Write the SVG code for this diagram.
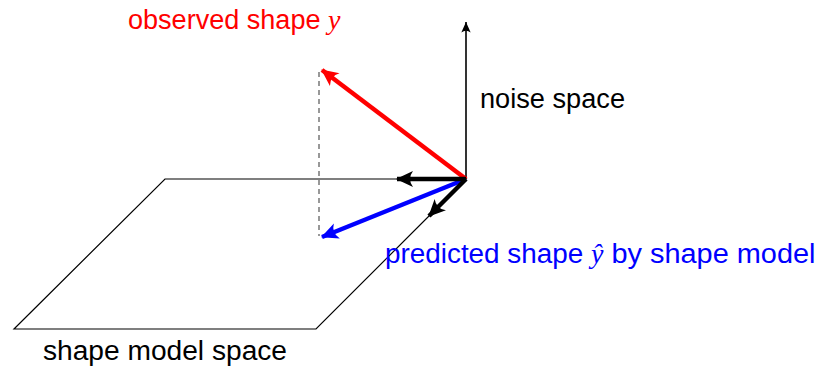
<svg xmlns="http://www.w3.org/2000/svg" width="827" height="372" viewBox="0 0 827 372">
<defs>
<marker id="headK" markerUnits="userSpaceOnUse" markerWidth="22" markerHeight="22" viewBox="-18 -11 22 22" refX="0" refY="0" orient="auto"><path d="M1,0 L-16,-8 Q-10,0 -16,8 Z" fill="#000"/></marker>
<marker id="headR" markerUnits="userSpaceOnUse" markerWidth="22" markerHeight="22" viewBox="-18 -11 22 22" refX="0" refY="0" orient="auto"><path d="M1,0 L-16,-8 Q-10,0 -16,8 Z" fill="#f00"/></marker>
<marker id="headB" markerUnits="userSpaceOnUse" markerWidth="22" markerHeight="22" viewBox="-18 -11 22 22" refX="0" refY="0" orient="auto"><path d="M1,0 L-16,-8 Q-10,0 -16,8 Z" fill="#00f"/></marker>
<marker id="headT" markerUnits="userSpaceOnUse" markerWidth="14" markerHeight="14" viewBox="-10 -6 12 12" refX="0" refY="0" orient="auto"><path d="M0,0 L-9,-4 Q-6,0 -9,4 Z" fill="#000"/></marker>
</defs>
<style>
text{font-family:"Liberation Sans",Arial,sans-serif;font-size:27px}
.m{font-family:"Liberation Serif",serif;font-style:italic;font-size:28px}
.thick{stroke-width:4.5;fill:none;stroke-linecap:butt}
</style>
<g id="plane">
<polygon points="165,179 466,179 316,329 14,329" fill="none" stroke="#000" stroke-width="1.2"/>
<text x="43" y="360" textLength="244" lengthAdjust="spacingAndGlyphs">shape model space</text>
</g>
<g id="connectors">
<line x1="319" y1="72" x2="319" y2="236" stroke="#777" stroke-width="1.5" stroke-dasharray="5,4"/>
<line x1="466" y1="179" x2="466" y2="22" stroke="#000" stroke-width="1.6" marker-end="url(#headT)"/>
<line x1="466" y1="179" x2="322" y2="70" class="thick" stroke="#f00" marker-end="url(#headR)"/>
<line x1="466" y1="179" x2="322" y2="237" class="thick" stroke="#00f" marker-end="url(#headB)"/>
<line x1="466" y1="179" x2="397" y2="179" class="thick" stroke="#000" marker-end="url(#headK)"/>
<line x1="466" y1="179" x2="429" y2="216" class="thick" stroke="#000" marker-end="url(#headK)"/>
</g>
<g id="noise">
<text x="480" y="108" textLength="145" lengthAdjust="spacingAndGlyphs">noise space</text>
</g>
<g id="observed">
<text x="128" y="29" fill="#f00"><tspan textLength="200" lengthAdjust="spacingAndGlyphs">observed shape </tspan><tspan class="m">y</tspan></text>
</g>
<g id="predicted">
<text x="385" y="263" fill="#00f"><tspan textLength="206" lengthAdjust="spacingAndGlyphs">predicted shape </tspan><tspan class="m">ŷ</tspan><tspan textLength="212" lengthAdjust="spacingAndGlyphs"> by shape model</tspan></text>
</g>
</svg>
